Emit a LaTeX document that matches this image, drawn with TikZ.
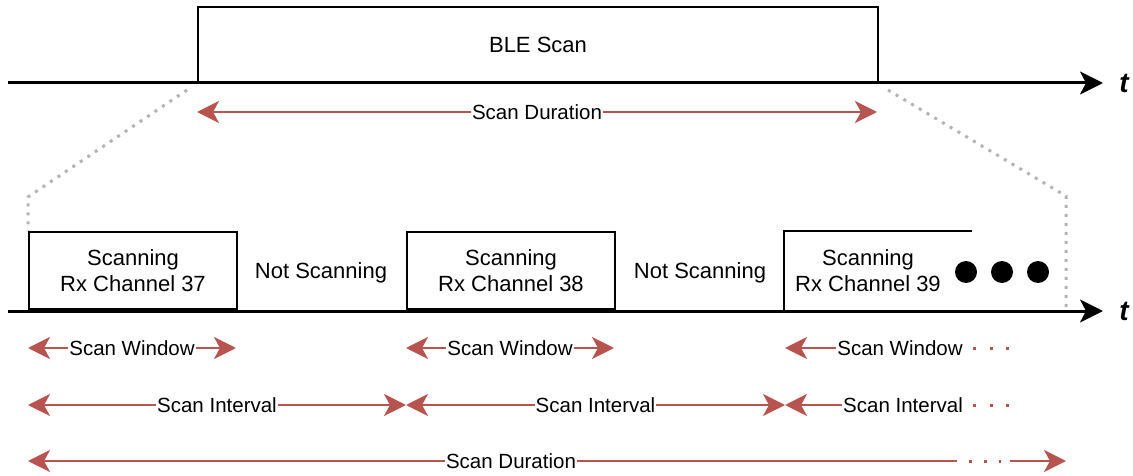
\documentclass[tikz,border=0pt]{standalone}
\usepackage{fontspec}
\setmainfont{Liberation Sans}
\usetikzlibrary{arrows.meta}

\definecolor{scanred}{HTML}{B85450}
\definecolor{zoomgrey}{HTML}{B3B3B3}

\tikzset{
	timeaxis/.style={line width=3pt, -{Stealth[length=23pt,width=23pt,inset=6pt]}},
	axislabel/.style={inner sep=0pt, font=\fontsize{28}{30}\selectfont\bfseries\itshape},
	slot/.style={draw, line width=2pt, align=center, inner sep=0pt, anchor=south west,
		font=\fontsize{22}{26.5}\selectfont},
	gaptext/.style={align=center, inner sep=0pt, font=\fontsize{22}{26.5}\selectfont},
	span/.style={scanred, line width=2.8pt},
	bothtips/.style={{Stealth[length=22pt,width=22pt,inset=6pt]}-{Stealth[length=22pt,width=22pt,inset=6pt]}},
	lefttip/.style={{Stealth[length=22pt,width=22pt,inset=6pt]}-},
	righttip/.style={-{Stealth[length=22pt,width=22pt,inset=6pt]}},
	spanlabel/.style={fill=white, text=black, inner sep=1pt, font=\fontsize{20.5}{24}\selectfont},
	zoomline/.style={zoomgrey, line width=3pt, dash pattern=on 3pt off 6pt},
	moredots/.style={scanred, line width=3pt, dash pattern=on 3pt off 13.5pt},
}

\begin{document}
\begin{tikzpicture}[x=1pt,y=-1pt]
	\useasboundingbox (0,0) rectangle (1133,476);

	% upper time line
	\node[slot, minimum width=680pt, minimum height=75pt] (blescan) at (197,83) {BLE Scan};
	\coordinate (ta0) at (8,83);
	\coordinate (ta1) at (1103,83);
	\node[axislabel] (tlabel1) at (1124,83) {t};
	\draw[timeaxis] (ta0) -- (ta1);

	% overall duration
	\coordinate (du0) at (197,112);
	\coordinate (du1) at (877,112);
	\draw[span, bothtips] (du0) -- (du1) node[midway, spanlabel] (durtop) {Scan Duration};

	% zoom lines
	\coordinate (zl0) at (187,90);
	\coordinate (zl1) at (28,197);
	\coordinate (zl2) at (28,231);
	\coordinate (zr0) at (888,90);
	\coordinate (zr1) at (1066,196);
	\coordinate (zr2) at (1066,308);
	\draw[zoomline] (zl0) -- (zl1) -- (zl2);
	\draw[zoomline] (zr0) -- (zr1) -- (zr2);

	% lower time line
	\node[slot, minimum width=208pt, minimum height=77pt] (rx37) at (28,310) {Scanning\\Rx Channel 37};
	\node[gaptext] (idle1) at (321,273) {Not Scanning};
	\node[slot, minimum width=208pt, minimum height=77pt] (rx38) at (406,310) {Scanning\\Rx Channel 38};
	\node[gaptext] (idle2) at (700,273) {Not Scanning};
	\node[slot, draw=none, minimum width=166pt, minimum height=77pt] (rx39) at (784,310) {Scanning\\Rx Channel 39};
	\draw[line width=2pt] (rx39.south west) -- (rx39.north west) -- ++(188,0);
	\foreach \cx in {966,1002,1038}
		\fill (\cx,272) circle (11);
	\coordinate (tb0) at (8,311);
	\coordinate (tb1) at (1103,311);
	\node[axislabel] (tlabel2) at (1124,311) {t};
	\draw[timeaxis] (tb0) -- (tb1);

	% scan window
	\coordinate (sw0) at (28,348);
	\coordinate (sw1) at (236,348);
	\coordinate (sw2) at (406,348);
	\coordinate (sw3) at (614,348);
	\coordinate (sw4) at (785,348);
	\draw[span, bothtips] (sw0) -- (sw1) node[midway, spanlabel] (win1) {Scan Window};
	\draw[span, bothtips] (sw2) -- (sw3) node[midway, spanlabel] (win2) {Scan Window};
	\node[spanlabel] (win3) at (900,348) {Scan Window};
	\draw[span, righttip] (win3.west) -- (sw4);
	\draw[moredots] (973,348) -- (1010,348);

	% scan interval
	\coordinate (si0) at (28,405);
	\coordinate (si1) at (406,405);
	\coordinate (si2) at (785,405);
	\draw[span, bothtips] (si0) -- (si1) node[midway, spanlabel] (int1) {Scan Interval};
	\draw[span, bothtips] (si1) -- (si2) node[midway, spanlabel] (int2) {Scan Interval};
	\node[spanlabel] (int3) at (903,405) {Scan Interval};
	\draw[span, righttip] (int3.west) -- (si2);
	\draw[moredots] (973,405) -- (1010,405);

	% scan duration
	\coordinate (sd0) at (28,461);
	\coordinate (sd1) at (957,461);
	\coordinate (sd2) at (1010,461);
	\coordinate (sd3) at (1066,461);
	\draw[span, lefttip] (sd0) -- (sd1);
	\node[spanlabel] (durbot) at (511,461) {Scan Duration};
	\draw[moredots, dash pattern=on 3pt off 12pt] (969,461) -- (1001,461);
	\draw[span, righttip] (sd2) -- (sd3);
\end{tikzpicture}
\end{document}
